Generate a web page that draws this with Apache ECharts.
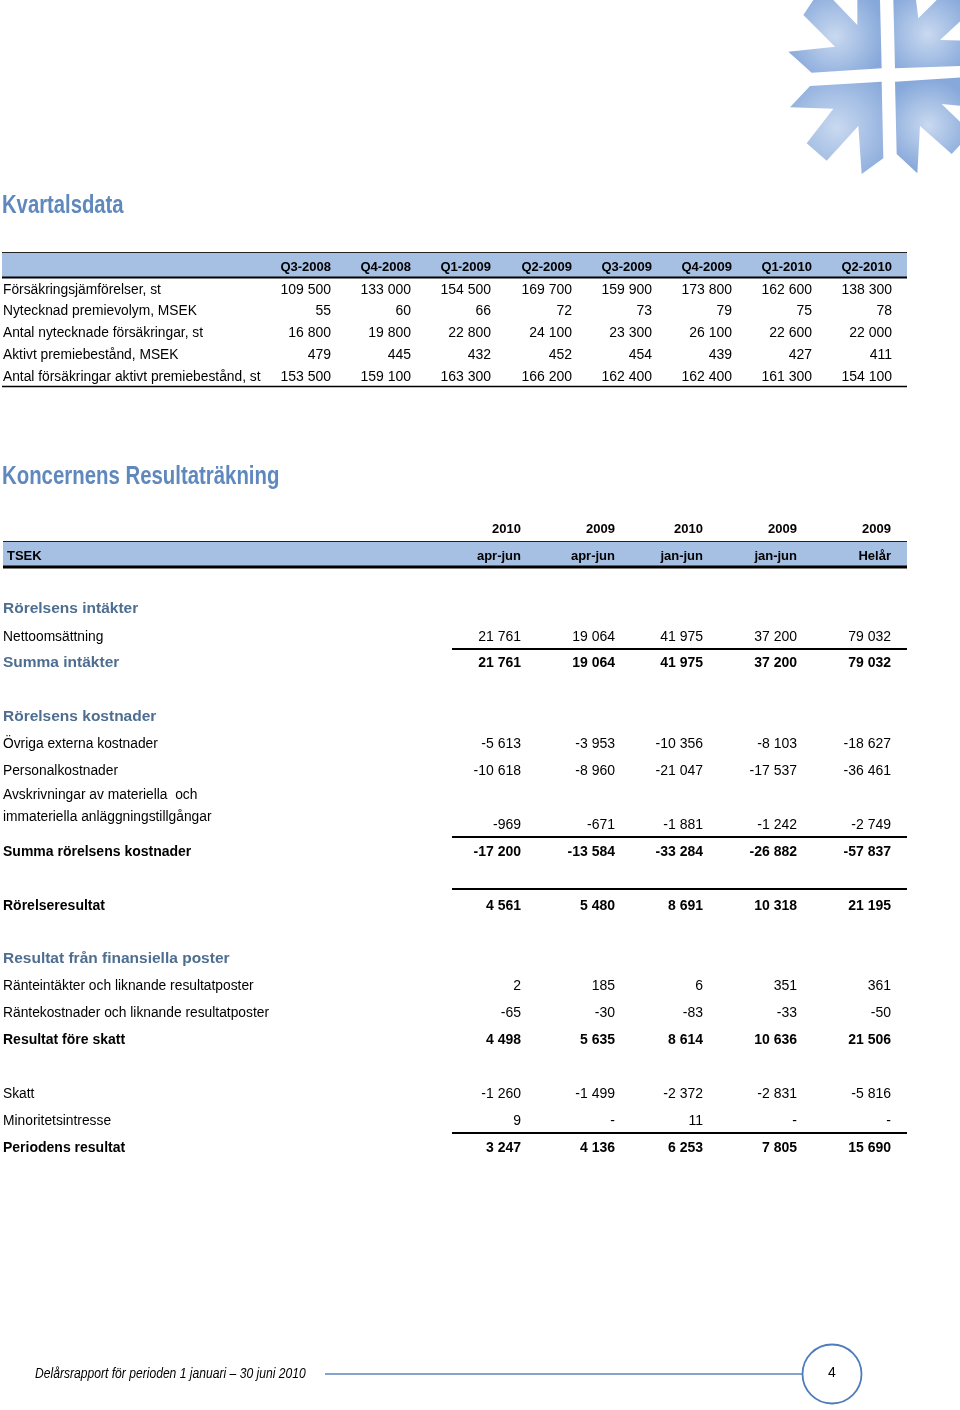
<!DOCTYPE html>
<html>
<head>
<meta charset="utf-8">
<script src="https://cdn.jsdelivr.net/npm/echarts@6/dist/echarts.min.js"></script>
<style>
  html, body { margin: 0; padding: 0; background: #fff; }
  #page { width: 960px; height: 1410px; }
</style>
</head>
<body>
<div id="page"></div>
<script>
// ---- Kvartalsdata ----
var quarters = ['Q3-2008', 'Q4-2008', 'Q1-2009', 'Q2-2009', 'Q3-2009', 'Q4-2009', 'Q1-2010', 'Q2-2010'];
var kvLabels = [
  'Försäkringsjämförelser, st',
  'Nytecknad premievolym, MSEK',
  'Antal nytecknade försäkringar, st',
  'Aktivt premiebestånd, MSEK',
  'Antal försäkringar aktivt premiebestånd, st'
];
var forsakringsjamforelser = [109500, 133000, 154500, 169700, 159900, 173800, 162600, 138300];
var premievolym = [55, 60, 66, 72, 73, 79, 75, 78];
var nytecknade = [16800, 19800, 22800, 24100, 23300, 26100, 22600, 22000];
var premiebestand = [479, 445, 432, 452, 454, 439, 427, 411];
var antalAktivt = [153500, 159100, 163300, 166200, 162400, 162400, 161300, 154100];
var kvValues = [forsakringsjamforelser, premievolym, nytecknade, premiebestand, antalAktivt];

// ---- Koncernens Resultaträkning ----
var years = ['2010', '2009', '2010', '2009', '2009'];
var periods = ['apr-jun', 'apr-jun', 'jan-jun', 'jan-jun', 'Helår'];
var nettoomsattning = [21761, 19064, 41975, 37200, 79032];
var summaIntakter = [21761, 19064, 41975, 37200, 79032];
var ovrigaExterna = [-5613, -3953, -10356, -8103, -18627];
var personalkostnader = [-10618, -8960, -21047, -17537, -36461];
var avskrivningar = [-969, -671, -1881, -1242, -2749];
var summaKostnader = [-17200, -13584, -33284, -26882, -57837];
var rorelseresultat = [4561, 5480, 8691, 10318, 21195];
var ranteintakter = [2, 185, 6, 351, 361];
var rantekostnader = [-65, -30, -83, -33, -50];
var resultatForeSkatt = [4498, 5635, 8614, 10636, 21506];
var skatt = [-1260, -1499, -2372, -2831, -5816];
var minoritet = [9, null, 11, null, null];
var periodensResultat = [3247, 4136, 6253, 7805, 15690];

function fmt(v) {
  if (v === null) return '-';
  var s = Math.abs(v).toString().replace(/\B(?=(\d{3})+(?!\d))/g, ' ');
  return (v < 0 ? '-' : '') + s;
}

var FONT = '"Liberation Sans", Arial, sans-serif';
var TITLE_C = '#5f88bd';
var SECT_C = '#4e6e90';
var BAND_C = '#a6c0e3';

var els = [];
function txt(x, y, s, o) {
  o = o || {};
  els.push({
    type: 'text', x: x, y: y + 1, silent: true,
    scaleX: o.scaleX || 1,
    style: {
      text: s, fill: o.color || '#000',
      font: (o.italic ? 'italic ' : '') + (o.bold ? 'bold ' : '') + (o.size || 14) + 'px ' + FONT,
      textAlign: o.align || 'left', textVerticalAlign: 'middle'
    }
  });
}
function hline(x1, x2, y, w, c) {
  els.push({ type: 'line', silent: true, shape: { x1: x1, y1: y, x2: x2, y2: y },
    style: { stroke: c || '#000', lineWidth: w } });
}

// titles (condensed look)
txt(2, 205, 'Kvartalsdata', { bold: true, size: 25, color: TITLE_C, scaleX: 0.81 });
txt(2, 476, 'Koncernens Resultaträkning', { bold: true, size: 25, color: TITLE_C, scaleX: 0.815 });

// quarterly table
var kvCols = [331, 411, 491, 572, 652, 732, 812, 892];
els.push({ type: 'rect', silent: true, shape: { x: 2, y: 253, width: 905, height: 24 }, style: { fill: BAND_C } });
hline(2, 907, 252.5, 1.2, '#222');
hline(2, 907, 277.5, 2, '#000');
quarters.forEach(function (q, i) { txt(kvCols[i], 266, q, { bold: true, size: 13, align: 'right' }); });
var kvY = [289, 310.5, 332, 354, 376];
kvLabels.forEach(function (lab, r) {
  txt(3, kvY[r], lab, { size: 14, scaleX: 0.985 });
  kvValues[r].forEach(function (v, i) { txt(kvCols[i], kvY[r], fmt(v), { size: 14, align: 'right' }); });
});
hline(2, 907, 386.5, 1.5, '#000');

// income statement header
var isCols = [521, 615, 703, 797, 891];
years.forEach(function (y, i) { txt(isCols[i], 528, y, { bold: true, size: 13, align: 'right' }); });
els.push({ type: 'rect', silent: true, shape: { x: 3, y: 542, width: 904, height: 24 }, style: { fill: BAND_C } });
hline(3, 907, 541.5, 1.2, '#222');
hline(3, 907, 567, 3, '#000');
txt(7, 555, 'TSEK', { bold: true, size: 13 });
periods.forEach(function (p, i) { txt(isCols[i], 555, p, { bold: true, size: 13, align: 'right' }); });

// income statement rows: [label, values, y, kind, valueY]
var isRows = [
  ['Rörelsens intäkter', null, 608, 'section'],
  ['Nettoomsättning', nettoomsattning, 636, 'normal'],
  ['Summa intäkter', summaIntakter, 662, 'sum'],
  ['Rörelsens kostnader', null, 716, 'section'],
  ['Övriga externa kostnader', ovrigaExterna, 743, 'normal'],
  ['Personalkostnader', personalkostnader, 770, 'normal'],
  ['Avskrivningar av materiella  och', null, 794, 'normal'],
  ['immateriella anläggningstillgångar', avskrivningar, 816, 'normal', 824],
  ['Summa rörelsens kostnader', summaKostnader, 851, 'bold'],
  ['Rörelseresultat', rorelseresultat, 905, 'bold'],
  ['Resultat från finansiella poster', null, 958, 'section'],
  ['Ränteintäkter och liknande resultatposter', ranteintakter, 985, 'normal'],
  ['Räntekostnader och liknande resultatposter', rantekostnader, 1012, 'normal'],
  ['Resultat före skatt', resultatForeSkatt, 1039, 'bold'],
  ['Skatt', skatt, 1093, 'normal'],
  ['Minoritetsintresse', minoritet, 1120, 'normal'],
  ['Periodens resultat', periodensResultat, 1147, 'bold']
];
isRows.forEach(function (r) {
  var kind = r[3];
  var lo = { size: 14, scaleX: 0.985 };
  if (kind === 'section' || kind === 'sum') lo = { size: 15.5, bold: true, color: SECT_C };
  if (kind === 'bold') lo = { size: 14, bold: true };
  txt(3, r[2], r[0], lo);
  if (r[1]) {
    var vy = r[4] || r[2];
    r[1].forEach(function (v, i) {
      txt(isCols[i], vy, fmt(v), { size: 14, bold: kind !== 'normal', align: 'right' });
    });
  }
});
// rules above totals
[649, 837, 889, 1133].forEach(function (y) { hline(452, 907, y, 1.8, '#000'); });

// footer
txt(35, 1373, 'Delårsrapport för perioden 1 januari – 30 juni 2010', { italic: true, size: 14, scaleX: 0.865 });
hline(325, 803, 1374, 1.5, '#5b84bd');
els.push({ type: 'circle', silent: true, shape: { cx: 832, cy: 1374, r: 29.5 },
  style: { fill: '#fff', stroke: '#4f7cba', lineWidth: 1.8 } });
txt(832, 1372, '4', { size: 14, align: 'center' });

// logo (decorative)
var logoParts = [
  [[100,0],[160,0],[232,75],[232,0],[300,0],[305,205],[95,218],[25,155],[165,140],[70,45]],
  [[340,0],[408,0],[415,55],[470,0],[545,0],[545,60],[480,120],[545,122],[545,198],[345,205]],
  [[90,258],[305,245],[310,475],[245,522],[235,378],[140,482],[80,430],[160,326],[30,322]],
  [[345,245],[545,232],[545,318],[485,312],[545,370],[545,430],[515,462],[420,378],[412,520],[350,462]]
];
logoParts.forEach(function (pts) {
  els.push({ type: 'polygon', silent: true,
    shape: { points: pts.map(function (p) { return [780 + p[0] / 3, p[1] / 3]; }) },
    style: { fill: new echarts.graphic.RadialGradient(0.5, 0.5, 0.7, [
      { offset: 0, color: '#c9d9f0' }, { offset: 1, color: '#86a8da' }]) } });
});

var chart = echarts.init(document.getElementById('page'), null, { renderer: 'canvas' });
chart.setOption({ backgroundColor: '#fff', animation: false, graphic: { elements: els } });
</script>
</body>
</html>
